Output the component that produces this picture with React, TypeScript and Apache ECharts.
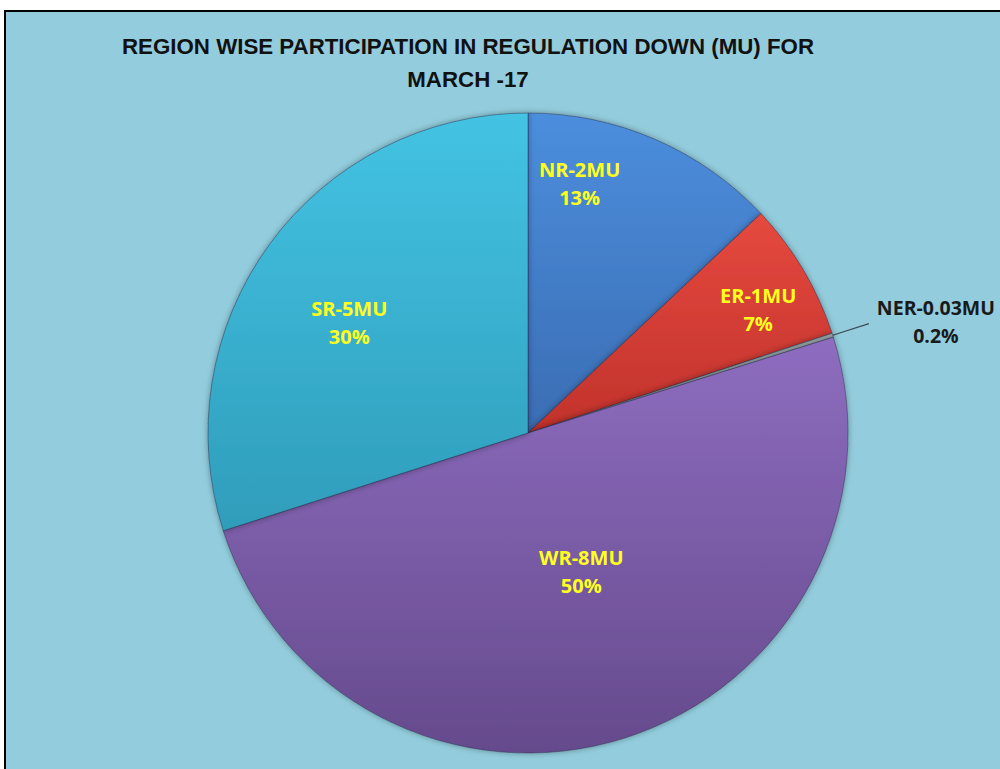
import React, { useEffect, useRef } from "react";
import * as echarts from "echarts";

const regions = ["NR", "ER", "NER", "WR", "SR"];
const energyMU = ["2", "1", "0.03", "8", "5"];
const sharePct = [13, 7, 0.2, 50, 30];

const titleLines = ["REGION WISE PARTICIPATION IN REGULATION DOWN (MU) FOR", "MARCH -17"];

const sliceColors: [string, string][] = [
  ["#4C8EDD", "#3A6DB3"],
  ["#E5493F", "#C1322B"],
  ["#9AA6A8", "#7C8A8D"],
  ["#8E6DC0", "#654A8C"],
  ["#44C3E3", "#2F9DBB"],
];

// label nudges (px) relative to default label position, purely stylistic
const labelNudge: [number, number][] = [
  [-13, -100],
  [90, -40],
  [63, -2],
  [4, -17],
  [-47, -14],
];

export default function App() {
  const ref = useRef<HTMLDivElement>(null);
  useEffect(() => {
    document.body.style.margin = "0";
    const chart = echarts.init(ref.current!, null, { renderer: "svg" });
    const data = regions.map((r, i) => {
      const isOutside = r === "NER";
      return {
        name: r,
        value: sharePct[i],
        itemStyle: {
          color: {
            type: "linear",
            x: 0,
            y: 0,
            x2: 0,
            y2: 1,
            colorStops: [
              { offset: 0, color: sliceColors[i][0] },
              { offset: 1, color: sliceColors[i][1] },
            ],
          },
        },
        label: isOutside
          ? {
              position: "outside",
              color: "#1a1a1a",
              align: "center",
              distanceToLabelLine: 4,
              fontSize: 19.5,
            }
          : { position: "inside" },
        labelLine: isOutside
          ? { show: true, length: 38, length2: 0, lineStyle: { color: "#3a4a55", width: 1.2 } }
          : { show: false },
      };
    });
    chart.setOption({
      animation: false,
      backgroundColor: "#ffffff",
      graphic: [
        {
          type: "rect",
          shape: { x: 5, y: 11, width: 1010, height: 780 },
          style: { fill: "#93CDDD", stroke: "#000000", lineWidth: 2 },
          z: -10,
        },
      ],
      title: {
        text: titleLines.join("\n"),
        left: 468,
        top: 30,
        textAlign: "center",
        padding: 0,
        textStyle: {
          fontFamily: "'Liberation Sans', sans-serif",
          fontWeight: "bold",
          fontSize: 22.3,
          lineHeight: 33,
          color: "#111111",
        },
      },
      series: [
        {
          type: "pie",
          center: [528, 433],
          radius: 320,
          startAngle: 90,
          clockwise: true,
          avoidLabelOverlap: false,
          itemStyle: {
            borderColor: "rgba(40,40,70,0.45)",
            borderWidth: 1,
            shadowBlur: 6,
            shadowColor: "rgba(0,0,0,0.35)",
          },
          label: {
            show: true,
            fontFamily: "'Open Sans', sans-serif",
            fontWeight: "bold",
            fontSize: 20,
            lineHeight: 28,
            color: "#FFFF1E",
            align: "center",
            formatter: (p: any) =>
              `${regions[p.dataIndex]}-${energyMU[p.dataIndex]}MU\n${sharePct[p.dataIndex]}%`,
          },
          labelLayout: (p: any) => {
            const n = labelNudge[p.dataIndex];
            if (regions[p.dataIndex] === "NER") {
              return { dx: n[0], dy: n[1], align: "center" };
            }
            return { dx: n[0], dy: n[1] };
          },
          data,
        },
      ],
    });
    return () => chart.dispose();
  }, []);
  return <div ref={ref} style={{ width: 1000, height: 769 }} />;
}
